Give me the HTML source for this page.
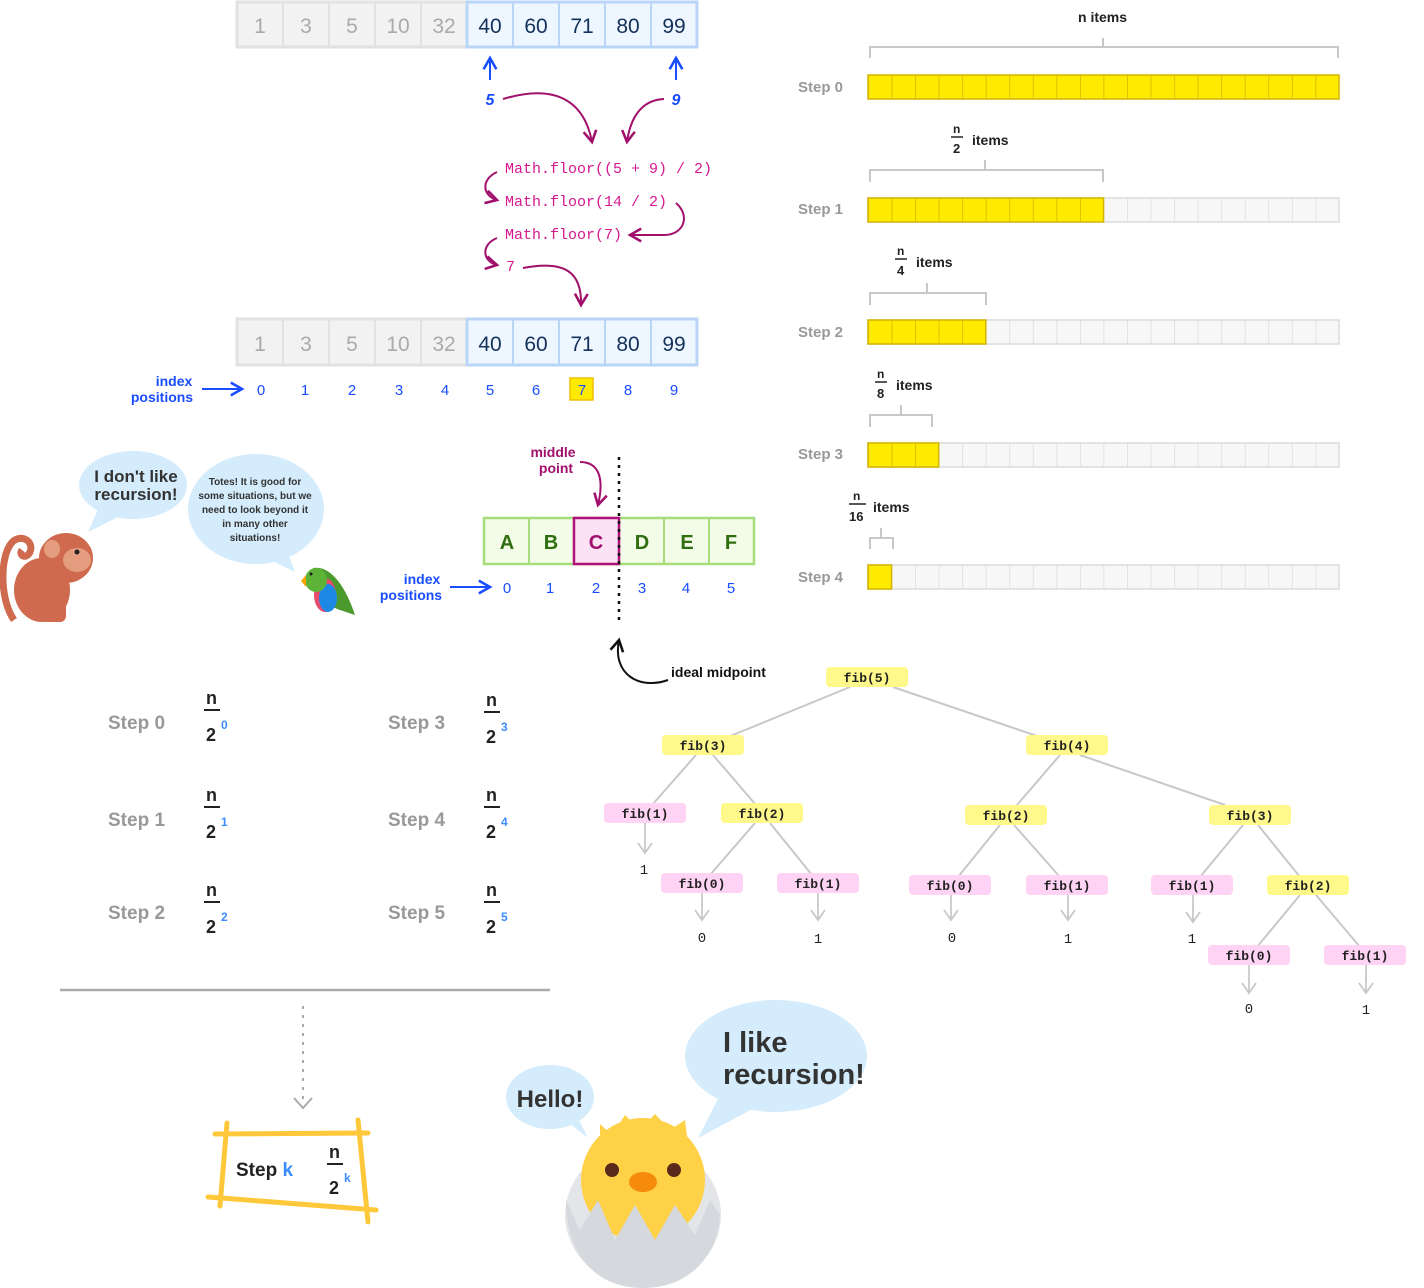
<!DOCTYPE html>
<html><head><meta charset="utf-8"><style>
html,body{margin:0;padding:0;background:#fff;}
svg{display:block}
.hand{font-family:"Liberation Sans Narrow","Liberation Sans",sans-serif;font-weight:bold;}
.mono{font-family:"Liberation Mono",monospace;}
</style></head><body>
<svg width="1424" height="1288" viewBox="0 0 1424 1288" xmlns="http://www.w3.org/2000/svg">
<defs>
<pattern id="gy" x="868" y="0" width="23.55" height="600" patternUnits="userSpaceOnUse"><rect x="0" y="0" width="23.55" height="600" fill="#f7f7f7"/><line x1="0" y1="0" x2="0" y2="600" stroke="#dcdcdc" stroke-width="1.5"/></pattern>
<pattern id="yl" x="868" y="0" width="23.55" height="600" patternUnits="userSpaceOnUse"><rect x="0" y="0" width="23.55" height="600" fill="#ffeb00"/><line x1="0" y1="0" x2="0" y2="600" stroke="#d4b400" stroke-width="1.5"/></pattern>
<marker id="ah" viewBox="0 0 10 10" refX="8" refY="5" markerWidth="8" markerHeight="8" orient="auto-start-reverse"><path d="M1 1L8 5L1 9" fill="none" stroke="context-stroke" stroke-width="1.6"/></marker>
</defs>

<!-- top array -->
<g font-family="Liberation Sans,sans-serif" font-size="21" text-anchor="middle">
<rect x="237" y="2" width="230" height="45" fill="#f2f2f2" stroke="#e2e2e2" stroke-width="3"/>
<rect x="467" y="2" width="230" height="45" fill="#eef6ff" stroke="#b9d6f7" stroke-width="3"/>
<g stroke="#e2e2e2" stroke-width="2"><line x1="283" y1="2" x2="283" y2="47"/><line x1="329" y1="2" x2="329" y2="47"/><line x1="375" y1="2" x2="375" y2="47"/><line x1="421" y1="2" x2="421" y2="47"/></g>
<g stroke="#b9d6f7" stroke-width="2"><line x1="513" y1="2" x2="513" y2="47"/><line x1="559" y1="2" x2="559" y2="47"/><line x1="605" y1="2" x2="605" y2="47"/><line x1="651" y1="2" x2="651" y2="47"/></g>
<g fill="#aaa"><text x="260" y="33">1</text><text x="306" y="33">3</text><text x="352" y="33">5</text><text x="398" y="33">10</text><text x="444" y="33">32</text></g>
<g fill="#14315a"><text x="490" y="33">40</text><text x="536" y="33">60</text><text x="582" y="33">71</text><text x="628" y="33">80</text><text x="674" y="33">99</text></g>

<rect x="237" y="319" width="230" height="46" fill="#f2f2f2" stroke="#e2e2e2" stroke-width="3"/>
<rect x="467" y="319" width="230" height="46" fill="#eef6ff" stroke="#b9d6f7" stroke-width="3"/>
<g stroke="#e2e2e2" stroke-width="2"><line x1="283" y1="319" x2="283" y2="365"/><line x1="329" y1="319" x2="329" y2="365"/><line x1="375" y1="319" x2="375" y2="365"/><line x1="421" y1="319" x2="421" y2="365"/></g>
<g stroke="#b9d6f7" stroke-width="2"><line x1="513" y1="319" x2="513" y2="365"/><line x1="559" y1="319" x2="559" y2="365"/><line x1="605" y1="319" x2="605" y2="365"/><line x1="651" y1="319" x2="651" y2="365"/></g>
<g fill="#aaa"><text x="260" y="351">1</text><text x="306" y="351">3</text><text x="352" y="351">5</text><text x="398" y="351">10</text><text x="444" y="351">32</text></g>
<g fill="#14315a"><text x="490" y="351">40</text><text x="536" y="351">60</text><text x="582" y="351">71</text><text x="628" y="351">80</text><text x="674" y="351">99</text></g>
</g>

<!-- pointers -->
<g stroke="#1a4dff" stroke-width="2" fill="none"><line x1="490" y1="80" x2="490" y2="58" marker-end="url(#ah)"/><line x1="676" y1="80" x2="676" y2="58" marker-end="url(#ah)"/></g>
<g class="hand" fill="#1a4dff" font-size="16" font-style="italic" text-anchor="middle"><text x="490" y="105">5</text><text x="676" y="105">9</text></g>
<g stroke="#a0106c" stroke-width="2" fill="none">
<path d="M503 99 C560 82 585 105 592 142" marker-end="url(#ah)"/>
<path d="M664 99 C640 100 630 120 627 142" marker-end="url(#ah)"/>
<path d="M497 172 C480 180 483 196 497 200" marker-end="url(#ah)"/>
<path d="M676 203 C690 215 685 234 665 235 L630 235" marker-end="url(#ah)"/>
<path d="M497 238 C480 245 483 262 497 265" marker-end="url(#ah)"/>
<path d="M523 268 C565 260 582 272 581 305" marker-end="url(#ah)"/>
</g>
<g class="mono" fill="#d6178f" font-size="15"><text x="505" y="173">Math.floor((5 + 9) / 2)</text><text x="505" y="206">Math.floor(14 / 2)</text><text x="505" y="239">Math.floor(7)</text><text x="506" y="271">7</text></g>

<!-- index row -->
<g class="hand" fill="#1a4dff" font-size="14" text-anchor="middle"><text x="174" y="386">index</text><text x="162" y="402">positions</text></g>
<line x1="202" y1="389" x2="242" y2="389" stroke="#1a4dff" stroke-width="2" marker-end="url(#ah)"/>
<rect x="570" y="378" width="23" height="22" fill="#ffeb00" stroke="#f0c000" stroke-width="1.5"/>
<g font-family="Liberation Sans,sans-serif" font-size="15" fill="#1a4dff" text-anchor="middle"><text x="261" y="395">0</text><text x="305" y="395">1</text><text x="352" y="395">2</text><text x="399" y="395">3</text><text x="445" y="395">4</text><text x="490" y="395">5</text><text x="536" y="395">6</text><text x="582" y="395">7</text><text x="628" y="395">8</text><text x="674" y="395">9</text></g>

<!-- ABC array -->
<rect x="484" y="518" width="270" height="46" fill="#f3fbe9" stroke="#a6dc7a" stroke-width="2.5"/>
<g stroke="#a6dc7a" stroke-width="2"><line x1="529" y1="518" x2="529" y2="564"/><line x1="664" y1="518" x2="664" y2="564"/><line x1="709" y1="518" x2="709" y2="564"/><line x1="619" y1="518" x2="619" y2="564"/></g>
<rect x="574" y="518" width="45" height="46" fill="#fbe3f5" stroke="#b0107a" stroke-width="2.5"/>
<g font-family="Liberation Sans,sans-serif" font-weight="bold" font-size="20" text-anchor="middle"><g fill="#2e6e0e"><text x="507" y="549">A</text><text x="551" y="549">B</text><text x="642" y="549">D</text><text x="687" y="549">E</text><text x="731" y="549">F</text></g><text x="596" y="549" fill="#a0106c">C</text></g>
<line x1="619" y1="457" x2="619" y2="625" stroke="#111" stroke-width="2.5" stroke-dasharray="3,5"/>
<g class="hand" fill="#a0106c" font-size="14" text-anchor="middle"><text x="553" y="457">middle</text><text x="556" y="473">point</text></g>
<path d="M580 462 C600 462 604 480 598 505" stroke="#a0106c" stroke-width="2" fill="none" marker-end="url(#ah)"/>
<g class="hand" fill="#1a4dff" font-size="14" text-anchor="middle"><text x="422" y="584">index</text><text x="411" y="600">positions</text></g>
<line x1="450" y1="587" x2="490" y2="587" stroke="#1a4dff" stroke-width="2" marker-end="url(#ah)"/>
<g font-family="Liberation Sans,sans-serif" font-size="15" fill="#1a4dff" text-anchor="middle"><text x="507" y="593">0</text><text x="550" y="593">1</text><text x="596" y="593">2</text><text x="642" y="593">3</text><text x="686" y="593">4</text><text x="731" y="593">5</text></g>
<path d="M668 680 C640 690 612 675 619 640" stroke="#111" stroke-width="2" fill="none" marker-end="url(#ah)"/>
<text class="hand" x="671" y="677" font-size="14" fill="#111">ideal midpoint</text>

<!-- step bars -->
<g class="hand" fill="#999" font-size="15"><text x="798" y="92">Step 0</text><text x="798" y="214">Step 1</text><text x="798" y="337">Step 2</text><text x="798" y="459">Step 3</text><text x="798" y="582">Step 4</text></g>
<rect x="868" y="75" width="471" height="24" fill="url(#yl)"/><rect x="868" y="75" width="471" height="24" fill="none" stroke="#d4b400" stroke-width="1.5"/>
<rect x="868" y="198" width="471" height="24" fill="url(#gy)" stroke="#dcdcdc" stroke-width="1.5"/><rect x="868" y="198" width="235.5" height="24" fill="url(#yl)" stroke="#d4b400" stroke-width="1.5"/>
<rect x="868" y="320" width="471" height="24" fill="url(#gy)" stroke="#dcdcdc" stroke-width="1.5"/><rect x="868" y="320" width="117.75" height="24" fill="url(#yl)" stroke="#d4b400" stroke-width="1.5"/>
<rect x="868" y="443" width="471" height="24" fill="url(#gy)" stroke="#dcdcdc" stroke-width="1.5"/><rect x="868" y="443" width="70.65" height="24" fill="url(#yl)" stroke="#d4b400" stroke-width="1.5"/>
<rect x="868" y="565" width="471" height="24" fill="url(#gy)" stroke="#dcdcdc" stroke-width="1.5"/><rect x="868" y="565" width="23.55" height="24" fill="url(#yl)" stroke="#d4b400" stroke-width="1.5"/>
<g stroke="#c8c8c8" stroke-width="2" fill="none">
<path d="M870 58V47H1338V58M1103 47V38"/>
<path d="M870 182V170H1103V182M985 170V160"/>
<path d="M870 305V293H986V305M927 293V283"/>
<path d="M870 427V415H932V427M901 415V405"/>
<path d="M870 549V538H893V549M881 538V528"/>
</g>
<g class="hand" fill="#222" font-size="14">
<text x="1078" y="22">n items</text>
<text x="953" y="133" font-size="12">n</text><line x1="951" y1="137" x2="963" y2="137" stroke="#222" stroke-width="1.5"/><text x="953" y="153" font-size="13">2</text><text x="972" y="145">items</text>
<text x="897" y="255" font-size="12">n</text><line x1="895" y1="259" x2="907" y2="259" stroke="#222" stroke-width="1.5"/><text x="897" y="275" font-size="13">4</text><text x="916" y="267">items</text>
<text x="877" y="378" font-size="12">n</text><line x1="875" y1="382" x2="887" y2="382" stroke="#222" stroke-width="1.5"/><text x="877" y="398" font-size="13">8</text><text x="896" y="390">items</text>
<text x="853" y="500" font-size="12">n</text><line x1="849" y1="504" x2="866" y2="504" stroke="#222" stroke-width="1.5"/><text x="849" y="521" font-size="13">16</text><text x="873" y="512">items</text>
</g>

<!-- fib tree -->
<g stroke="#c8c8c8" stroke-width="2" fill="none">
<line x1="850" y1="687" x2="728" y2="737"/><line x1="893" y1="687" x2="1040" y2="737"/>
<line x1="696" y1="755" x2="652" y2="805"/><line x1="713" y1="755" x2="756" y2="805"/>
<line x1="1060" y1="755" x2="1017" y2="805"/><line x1="1080" y1="755" x2="1225" y2="805"/>
<line x1="755" y1="823" x2="710" y2="875"/><line x1="770" y1="823" x2="812" y2="875"/>
<line x1="1000" y1="825" x2="958" y2="877"/><line x1="1014" y1="825" x2="1060" y2="877"/>
<line x1="1243" y1="825" x2="1200" y2="877"/><line x1="1258" y1="825" x2="1300" y2="877"/>
<line x1="1300" y1="895" x2="1257" y2="947"/><line x1="1316" y1="895" x2="1360" y2="947"/>
</g>
<g stroke="#c8c8c8" stroke-width="1.8" fill="none">
<path d="M645 823V853M638 843L645 853L652 843"/>
<path d="M702 893V920M695 910L702 920L709 910"/>
<path d="M818 893V920M811 910L818 920L825 910"/>
<path d="M951 895V920M944 910L951 920L958 910"/>
<path d="M1068 895V920M1061 910L1068 920L1075 910"/>
<path d="M1193 895V922M1186 912L1193 922L1200 912"/>
<path d="M1249 965V993M1242 983L1249 993L1256 983"/>
<path d="M1366 965V993M1359 983L1366 993L1373 983"/>
</g>
<g class="mono" font-size="13" text-anchor="middle" font-weight="bold" fill="#222">
<rect x="826" y="667" width="82" height="20" rx="4" fill="#fff98c"/><text x="867" y="682">fib(5)</text>
<rect x="662" y="735" width="82" height="20" rx="4" fill="#fff98c"/><text x="703" y="750">fib(3)</text>
<rect x="1026" y="735" width="82" height="20" rx="4" fill="#fff98c"/><text x="1067" y="750">fib(4)</text>
<rect x="604" y="803" width="82" height="20" rx="4" fill="#ffd3f3"/><text x="645" y="818">fib(1)</text>
<rect x="721" y="803" width="82" height="20" rx="4" fill="#fff98c"/><text x="762" y="818">fib(2)</text>
<rect x="965" y="805" width="82" height="20" rx="4" fill="#fff98c"/><text x="1006" y="820">fib(2)</text>
<rect x="1209" y="805" width="82" height="20" rx="4" fill="#fff98c"/><text x="1250" y="820">fib(3)</text>
<rect x="661" y="873" width="82" height="20" rx="4" fill="#ffd3f3"/><text x="702" y="888">fib(0)</text>
<rect x="777" y="873" width="82" height="20" rx="4" fill="#ffd3f3"/><text x="818" y="888">fib(1)</text>
<rect x="909" y="875" width="82" height="20" rx="4" fill="#ffd3f3"/><text x="950" y="890">fib(0)</text>
<rect x="1026" y="875" width="82" height="20" rx="4" fill="#ffd3f3"/><text x="1067" y="890">fib(1)</text>
<rect x="1151" y="875" width="82" height="20" rx="4" fill="#ffd3f3"/><text x="1192" y="890">fib(1)</text>
<rect x="1267" y="875" width="82" height="20" rx="4" fill="#fff98c"/><text x="1308" y="890">fib(2)</text>
<rect x="1208" y="945" width="82" height="20" rx="4" fill="#ffd3f3"/><text x="1249" y="960">fib(0)</text>
<rect x="1324" y="945" width="82" height="20" rx="4" fill="#ffd3f3"/><text x="1365" y="960">fib(1)</text>
</g>
<g class="mono" font-size="14" text-anchor="middle" fill="#222"><text x="644" y="874">1</text><text x="702" y="942">0</text><text x="818" y="943">1</text><text x="952" y="942">0</text><text x="1068" y="943">1</text><text x="1192" y="943">1</text><text x="1249" y="1013">0</text><text x="1366" y="1014">1</text></g>

<!-- bottom left steps -->
<g class="hand" font-size="19" fill="#999"><text x="108" y="729">Step 0</text><text x="108" y="826">Step 1</text><text x="108" y="919">Step 2</text><text x="388" y="729">Step 3</text><text x="388" y="826">Step 4</text><text x="388" y="919">Step 5</text></g>
<g class="hand" font-size="18" fill="#222">
<text x="206" y="704">n</text><line x1="204" y1="710" x2="220" y2="710" stroke="#222" stroke-width="2"/><text x="206" y="741">2</text><text x="221" y="729" font-size="12" fill="#3a8cff">0</text>
<text x="206" y="801">n</text><line x1="204" y1="807" x2="220" y2="807" stroke="#222" stroke-width="2"/><text x="206" y="838">2</text><text x="221" y="826" font-size="12" fill="#3a8cff">1</text>
<text x="206" y="896">n</text><line x1="204" y1="902" x2="220" y2="902" stroke="#222" stroke-width="2"/><text x="206" y="933">2</text><text x="221" y="921" font-size="12" fill="#3a8cff">2</text>
<text x="486" y="706">n</text><line x1="484" y1="712" x2="500" y2="712" stroke="#222" stroke-width="2"/><text x="486" y="743">2</text><text x="501" y="731" font-size="12" fill="#3a8cff">3</text>
<text x="486" y="801">n</text><line x1="484" y1="807" x2="500" y2="807" stroke="#222" stroke-width="2"/><text x="486" y="838">2</text><text x="501" y="826" font-size="12" fill="#3a8cff">4</text>
<text x="486" y="896">n</text><line x1="484" y1="902" x2="500" y2="902" stroke="#222" stroke-width="2"/><text x="486" y="933">2</text><text x="501" y="921" font-size="12" fill="#3a8cff">5</text>
</g>
<line x1="60" y1="990" x2="550" y2="990" stroke="#aaa" stroke-width="2.5"/>
<line x1="303" y1="1006" x2="303" y2="1100" stroke="#aaa" stroke-width="2" stroke-dasharray="3,6"/>
<path d="M294 1098L303 1108L312 1098" stroke="#aaa" stroke-width="2" fill="none"/>
<g stroke="#ffc83a" stroke-width="5" stroke-linecap="round" fill="none">
<path d="M215 1134L368 1133"/><path d="M227 1123L220 1206"/><path d="M358 1120L368 1222"/><path d="M208 1197L376 1210"/>
</g>
<text class="hand" x="236" y="1176" font-size="19" fill="#222">Step <tspan fill="#3a8cff">k</tspan></text>
<text class="hand" x="329" y="1158" font-size="18" fill="#222">n</text><line x1="327" y1="1164" x2="343" y2="1164" stroke="#222" stroke-width="2"/><text class="hand" x="329" y="1194" font-size="18" fill="#222">2</text><text class="hand" x="344" y="1182" font-size="12" fill="#3a8cff">k</text>

<!-- monkey & parrot -->
<ellipse cx="133" cy="485" rx="54" ry="34" fill="#d4ecfb"/><path d="M100 505L88 532L128 512Z" fill="#d4ecfb"/>
<text class="hand" x="136" y="482" font-size="17" fill="#333" text-anchor="middle">I don't like</text><text class="hand" x="136" y="500" font-size="17" fill="#333" text-anchor="middle">recursion!</text>
<ellipse cx="256" cy="509" rx="68" ry="55" fill="#d4ecfb"/><path d="M262 556L295 572L285 545Z" fill="#d4ecfb"/>
<g class="hand" font-size="10" fill="#333" text-anchor="middle"><text x="255" y="485">Totes! It is good for</text><text x="255" y="499">some situations, but we</text><text x="255" y="513">need to look beyond it</text><text x="255" y="527">in many other</text><text x="255" y="541">situations!</text></g>
<g fill="#cf6a4e">
<path d="M14 620C0 600 0 560 10 545C18 532 35 540 30 552C26 560 18 555 22 550" fill="none" stroke="#cf6a4e" stroke-width="7"/>
<ellipse cx="42" cy="590" rx="28" ry="32"/>
<ellipse cx="66" cy="558" rx="27" ry="25"/>
<rect x="42" y="600" width="24" height="22" rx="6"/>
</g>
<ellipse cx="52" cy="549" rx="8" ry="9" fill="#e59d80"/>
<ellipse cx="77" cy="560" rx="14" ry="12" fill="#e59d80"/>
<circle cx="77" cy="552" r="2.5" fill="#222"/>
<g>
<path d="M313 568C330 565 345 585 355 615L340 610C325 605 312 590 313 568Z" fill="#4b9a2d"/>
<ellipse cx="325" cy="595" rx="11" ry="17" fill="#e74c6d"/>
<ellipse cx="328" cy="598" rx="9" ry="14" fill="#1e88e5"/>
<ellipse cx="316" cy="580" rx="11" ry="12" fill="#5cb338"/>
<path d="M306 575L301 581L306 587Z" fill="#f5a400"/>
<circle cx="311" cy="574" r="1.5" fill="#222"/>
</g>

<!-- chick -->
<ellipse cx="776" cy="1056" rx="91" ry="56" fill="#d4ecfb"/><path d="M720 1095L698 1138L760 1105Z" fill="#d4ecfb"/>
<text class="hand" x="723" y="1052" font-size="29" fill="#333">I like</text><text class="hand" x="723" y="1084" font-size="29" fill="#333">recursion!</text>
<ellipse cx="550" cy="1097" rx="44" ry="32" fill="#d4ecfb"/><path d="M565 1120L588 1138L575 1112Z" fill="#d4ecfb"/>
<text class="hand" x="550" y="1107" font-size="24" fill="#333" text-anchor="middle">Hello!</text>
<ellipse cx="643" cy="1215" rx="78" ry="72" fill="#e3e5e8"/>
<ellipse cx="643" cy="1180" rx="62" ry="62" fill="#ffd146"/>
<path d="M600 1124L612 1135L625 1115L640 1130L655 1114L670 1130L685 1120L690 1160L600 1160Z" fill="#ffd146"/>
<circle cx="612" cy="1170" r="7" fill="#5a2a1a"/><circle cx="674" cy="1170" r="7" fill="#5a2a1a"/>
<ellipse cx="643" cy="1182" rx="14" ry="10" fill="#f58a0b"/>
<path d="M566 1200L580 1230L598 1200L615 1240L635 1205L655 1240L675 1205L695 1235L710 1200L720 1215C718 1255 690 1288 643 1288C596 1288 566 1255 566 1200Z" fill="#d5d8dd"/>
</svg>
</body></html>
